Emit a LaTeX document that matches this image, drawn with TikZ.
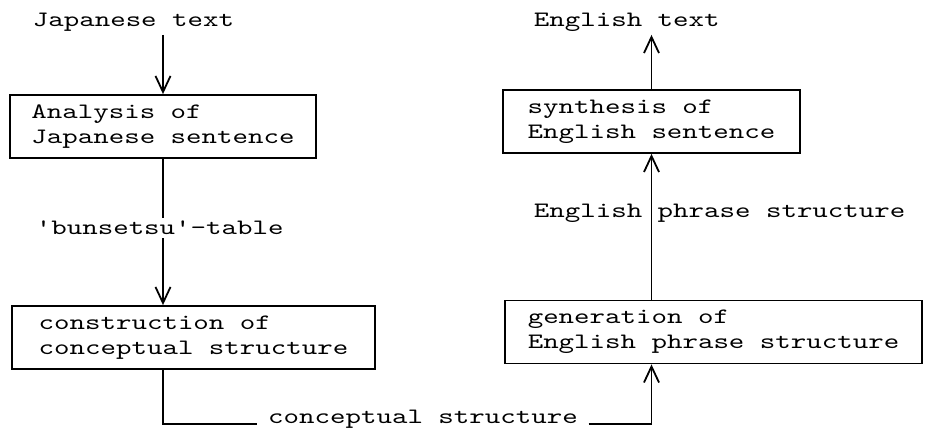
\documentclass[tikz,border=0pt]{standalone}
\usepackage{fontspec}
\setmonofont{lmmono10-regular.otf}[FakeStretch=1.34]
\usetikzlibrary{arrows.meta,positioning}
\tikzset{
	>={Straight Barb[length=8pt,width=7.5pt]},
	box/.style = {
			draw,
			rectangle,
			align = left,
			inner xsep = 10pt,
			minimum height = 31.5pt,
		},
	txt/.style = {
			inner xsep = 0pt,
			inner ysep = 1pt,
		}
}

\begin{document}
\begin{tikzpicture}
	[x=0.5pt, y=-0.5pt, line width=0.9pt,
		font=\ttfamily\fontsize{11}{12.5}\selectfont]
	\useasboundingbox (0,0) rectangle (927,437);

	% Boxes
	\node [box, minimum width=153pt] (ana) at (163,126.5) {Analysis of\\Japanese sentence};
	\node [box, minimum width=181.5pt] (con) at (193.5,337.5) {construction of\\conceptual structure};
	\node [box, minimum width=148.5pt] (syn) at (651.5,121.5) {synthesis of\\English sentence};
	\node [box, minimum width=208.5pt] (gen) at (713.5,332) {generation of\\English phrase structure};

	% Data between the steps
	\node [txt, anchor=base west] (jt) at (32,27) {Japanese text};
	\node [txt, anchor=base west] (bt) at (35,235) {'bunsetsu'-table};
	\node [txt, anchor=base west] (et) at (533,27) {English text};
	\node [txt, anchor=base west] (ep) at (533,218) {English phrase structure};
	\node [txt, anchor=base, inner xsep=5pt] (cs) at (423,424) {conceptual structure};

	\draw[->] (ana.north |- jt.south) -- (ana.north);
	\draw (ana.south) -- (ana.south |- bt.north);
	\draw[->] (bt.south -| ana.south) -- (ana.south |- con.north);
	\draw (ana.south |- con.south) |- (cs.base west);
	\draw[->] (cs.base east) -| (syn.south |- gen.south);
	\draw[->] (syn.south |- gen.north) -- (syn.south);
	\draw[->] (syn.north) -- (syn.north |- et.south);
\end{tikzpicture}
\end{document}
